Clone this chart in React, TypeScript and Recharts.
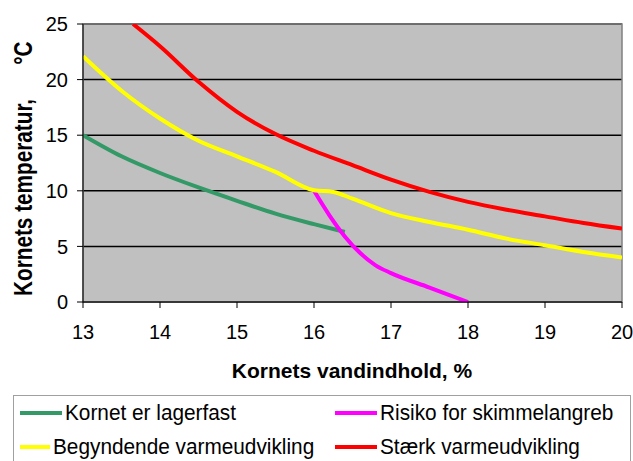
import { LineChart, Line, XAxis, YAxis, CartesianGrid, ReferenceArea, Label } from "recharts";

const font = "'Liberation Sans', Arial, sans-serif";

// kornets vandindhold (%) / temperatur (°C)
const moistureTicks = [13, 14, 15, 16, 17, 18, 19, 20];
const tempTicks = [0, 5, 10, 15, 20, 25];

const lagerfast = [
  { w: 13, t: 15 },
  { w: 13.5, t: 13.1 },
  { w: 14, t: 11.6 },
  { w: 14.5, t: 10.3 },
  { w: 15, t: 9.1 },
  { w: 15.5, t: 7.95 },
  { w: 16, t: 7.0 },
  { w: 16.4, t: 6.3 },
];

const skimmel = [
  { w: 16, t: 10.0 },
  { w: 16.2, t: 7.8 },
  { w: 16.4, t: 5.9 },
  { w: 16.6, t: 4.4 },
  { w: 16.8, t: 3.3 },
  { w: 17, t: 2.6 },
  { w: 17.5, t: 1.3 },
  { w: 18, t: 0 },
];

const begyndende = [
  { w: 13, t: 22.1 },
  { w: 13.5, t: 19.0 },
  { w: 14, t: 16.5 },
  { w: 14.5, t: 14.5 },
  { w: 15, t: 13.1 },
  { w: 15.5, t: 11.7 },
  { w: 16, t: 10.05 },
  { w: 16.25, t: 9.9 },
  { w: 16.5, t: 9.3 },
  { w: 17, t: 8.0 },
  { w: 17.5, t: 7.2 },
  { w: 18, t: 6.5 },
  { w: 18.5, t: 5.7 },
  { w: 19, t: 5.1 },
  { w: 19.5, t: 4.5 },
  { w: 20, t: 4.0 },
];

const staerk = [
  { w: 13.65, t: 25 },
  { w: 14, t: 23.0 },
  { w: 14.5, t: 19.8 },
  { w: 15, t: 17.1 },
  { w: 15.5, t: 15.1 },
  { w: 16, t: 13.6 },
  { w: 16.5, t: 12.3 },
  { w: 17, t: 11.0 },
  { w: 17.5, t: 9.9 },
  { w: 18, t: 9.0 },
  { w: 18.5, t: 8.3 },
  { w: 19, t: 7.7 },
  { w: 19.5, t: 7.1 },
  { w: 20, t: 6.6 },
];

const series = [
  { name: "Kornet er lagerfast", color: "#339966", data: lagerfast },
  { name: "Risiko for skimmelangreb", color: "#ff00ff", data: skimmel },
  { name: "Begyndende varmeudvikling", color: "#ffff00", data: begyndende },
  { name: "Stærk varmeudvikling", color: "#ff0000", data: staerk },
];

const tickStyle = { fill: "#000", fontSize: 20, fontFamily: font };

const App = () => {
  return (
    <div
      style={{
        position: "absolute",
        left: 0,
        top: 0,
        width: 633,
        height: 461,
        background: "#fff",
        fontFamily: font,
        overflow: "hidden",
      }}
    >
      <LineChart width={633} height={461} margin={{ top: 24, right: 11, bottom: 79, left: 23 }}>
        <CartesianGrid vertical={false} stroke="#000" strokeWidth={1.5} fill="#c0c0c0" fillOpacity={1} />
        <ReferenceArea x1={13} x2={20} y1={0} y2={25} fill="none" stroke="#808080" strokeWidth={1.5} />
        <XAxis
          dataKey="w"
          type="number"
          domain={[13, 20]}
          ticks={moistureTicks}
          allowDataOverflow
          height={80}
          tickSize={6}
          tickMargin={17}
          stroke="#000"
          tick={tickStyle}
        >
          <Label
            content={() => (
              <text x={352} y={378} textAnchor="middle" fontSize={21} fontWeight="bold" fontFamily={font} fill="#000">
                Kornets vandindhold, %
              </text>
            )}
          />
        </XAxis>
        <YAxis
          type="number"
          domain={[0, 25]}
          ticks={tempTicks}
          interval={0}
          allowDataOverflow
          width={60}
          tickSize={6}
          tickMargin={9}
          stroke="#000"
          tick={tickStyle}
        >
          <Label
            content={() => (
              <text
                x={0}
                y={0}
                transform="translate(32 296) rotate(-90) scale(0.83 1)"
                textAnchor="start"
                fontSize={25}
                fontWeight="bold"
                fontFamily={font}
                fill="#000"
              >
                Kornets temperatur,
                <tspan dx={41}>°C</tspan>
              </text>
            )}
          />
        </YAxis>
        {series.map((s) => (
          <Line
            key={s.name}
            name={s.name}
            data={s.data}
            dataKey="t"
            type="monotone"
            stroke={s.color}
            strokeWidth={4}
            dot={false}
            activeDot={false}
            isAnimationActive={false}
          />
        ))}
      </LineChart>
      <div
        style={{
          position: "absolute",
          left: 13,
          top: 395,
          width: 618,
          height: 72,
          border: "1px solid #a0a0a0",
          boxSizing: "border-box",
          display: "grid",
          gridTemplateColumns: "315px auto",
          gridAutoRows: "34px",
        }}
      >
        {series.map((s) => (
          <div key={s.name} style={{ display: "flex", alignItems: "center", paddingLeft: 6 }}>
            <span style={{ display: "inline-block", width: 42, height: 4, background: s.color, marginRight: 3 }} />
            <span
              style={{
                display: "inline-block",
                fontSize: 22,
                lineHeight: "22px",
                whiteSpace: "nowrap",
                transform: "scaleX(0.945)",
                transformOrigin: "left center",
                color: "#000",
              }}
            >
              {s.name}
            </span>
          </div>
        ))}
      </div>
    </div>
  );
};

export default App;
